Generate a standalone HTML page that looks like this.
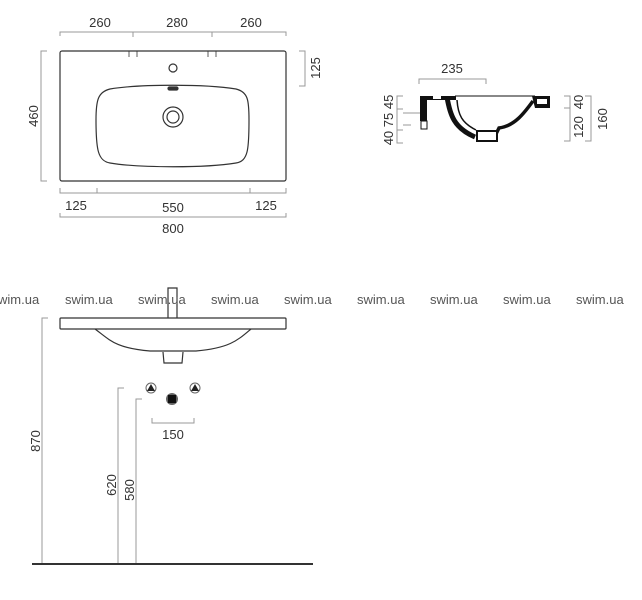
<!DOCTYPE html>
<html><head><meta charset="utf-8"><style>
html,body{margin:0;padding:0;background:#fff;width:642px;height:600px;overflow:hidden}
svg{display:block}
text{font-family:"Liberation Sans",sans-serif;fill:#333;font-size:13px}
</style></head><body>
<svg width="642" height="600" viewBox="0 0 642 600">
<g fill="none" stroke="#999" stroke-width="1">
<path d="M60,36V32H286V36M133,32V37M212,32V37"/>
<path d="M47,51H41V181H47"/>
<path d="M299,51H305V86H299"/>
<path d="M60,188V193H286V188M97,193V188M250,193V188"/>
<path d="M60,213V217H286V213"/>
<path d="M419,84V79H486V84"/>
<path d="M403,96H397V143H403M397,109H403M397,130H403M403,113H412M403,125H411"/>
<path d="M564,96H570V141H564M564,108H570"/>
<path d="M585,96H591V141H585"/>
<path d="M48,318H42V564"/>
<path d="M124,388H118V564"/>
<path d="M142,399H136V564"/>
<path d="M152,418V423H194V418"/>
</g>
<g fill="#333">
<text x="100" y="27" text-anchor="middle">260</text>
<text x="177" y="27" text-anchor="middle">280</text>
<text x="251" y="27" text-anchor="middle">260</text>
<text transform="translate(38,116) rotate(-90)" text-anchor="middle">460</text>
<text transform="translate(320,68) rotate(-90)" text-anchor="middle">125</text>
<text x="76" y="210" text-anchor="middle">125</text>
<text x="173" y="212" text-anchor="middle">550</text>
<text x="266" y="210" text-anchor="middle">125</text>
<text x="173" y="233" text-anchor="middle">800</text>
<text x="452" y="73" text-anchor="middle">235</text>
<text transform="translate(393,120) rotate(-90)" text-anchor="middle">40 75 45</text>
<text transform="translate(583,102) rotate(-90)" text-anchor="middle">40</text>
<text transform="translate(583,127) rotate(-90)" text-anchor="middle">120</text>
<text transform="translate(607,119) rotate(-90)" text-anchor="middle">160</text>
<text transform="translate(40,441) rotate(-90)" text-anchor="middle">870</text>
<text transform="translate(116,485) rotate(-90)" text-anchor="middle">620</text>
<text transform="translate(134,490) rotate(-90)" text-anchor="middle">580</text>
<text x="173" y="439" text-anchor="middle">150</text>
</g>
<g fill="none" stroke="#333" stroke-width="1.2">
<rect x="60" y="51" width="226" height="130" rx="2"/>
<path d="M129,51V57M137,51V57M208,51V57M216,51V57" stroke-width="0.8"/>
<circle cx="173" cy="68" r="4"/>
<path d="M110,89 C140,84 206,84 236,89 C248,92 249,100 249,120 C249,150 248,161 236,163 C206,168 140,168 110,163 C98,161 96,150 96,120 C96,100 98,92 110,89Z"/>
<circle cx="173" cy="117" r="10"/>
<circle cx="173" cy="117" r="6"/>
<rect x="168" y="87" width="10" height="3" rx="1.5" fill="#333"/>
</g>
<g stroke="#111" fill="#111">
<path d="M455,96H535" fill="none" stroke-width="1"/>
<rect x="420" y="96" width="36" height="4" stroke="none"/>
<rect x="433" y="96" width="8" height="3" fill="#fff" stroke="none"/>
<rect x="420" y="96" width="7" height="25" stroke="none"/>
<rect x="421" y="121" width="6" height="8" fill="#fff" stroke="#111" stroke-width="1"/>
<path d="M412,113H420" stroke="#999" fill="none"/>
<path d="M447,97 C450,115 454,128 475,137" fill="none" stroke-width="5"/>
<path d="M457,100 C458,115 462,123 476,130" fill="none" stroke-width="1.5"/>
<path d="M476,132 H497 L499,128 C515,126 525,112 533,101" fill="none" stroke-width="3.5"/>
<rect x="477" y="131" width="20" height="10" fill="#fff" stroke="#111" stroke-width="2"/>
<path d="M532,96H550V108H535Z" stroke="none"/>
<rect x="537" y="99" width="10" height="5" fill="#fff" stroke="none"/>
</g>
<g fill="none" stroke="#333" stroke-width="1.2">
<rect x="60" y="318" width="226" height="11" rx="1"/>
<path d="M168,318V288H177V318"/>
<path d="M95,329 C110,340 115,348 150,351 H196 C230,348 238,340 251,329"/>
<path d="M163,352 L164,363 H182 L183,352"/>
</g>
<g>
<text x="-2" y="304" style="fill:#555">wim.ua</text>
<text x="65" y="304" style="fill:#555">swim.ua</text>
<text x="138" y="304" style="fill:#555">swim.ua</text>
<text x="211" y="304" style="fill:#555">swim.ua</text>
<text x="284" y="304" style="fill:#555">swim.ua</text>
<text x="357" y="304" style="fill:#555">swim.ua</text>
<text x="430" y="304" style="fill:#555">swim.ua</text>
<text x="503" y="304" style="fill:#555">swim.ua</text>
<text x="576" y="304" style="fill:#555">swim.ua</text>
</g>
<line x1="32" y1="564" x2="313" y2="564" stroke="#333" stroke-width="2"/>
<g>
<circle cx="151" cy="388" r="5" fill="#fff" stroke="#666" stroke-width="1"/>
<path d="M151,384 L155,391 H147Z" fill="#222"/>
<circle cx="195" cy="388" r="5" fill="#fff" stroke="#666" stroke-width="1"/>
<path d="M195,384 L199,391 H191Z" fill="#222"/>
<circle cx="172" cy="399" r="6" fill="#666"/>
<rect x="168" y="395" width="8" height="8" fill="#111"/>
</g>
</svg>
</body></html>
